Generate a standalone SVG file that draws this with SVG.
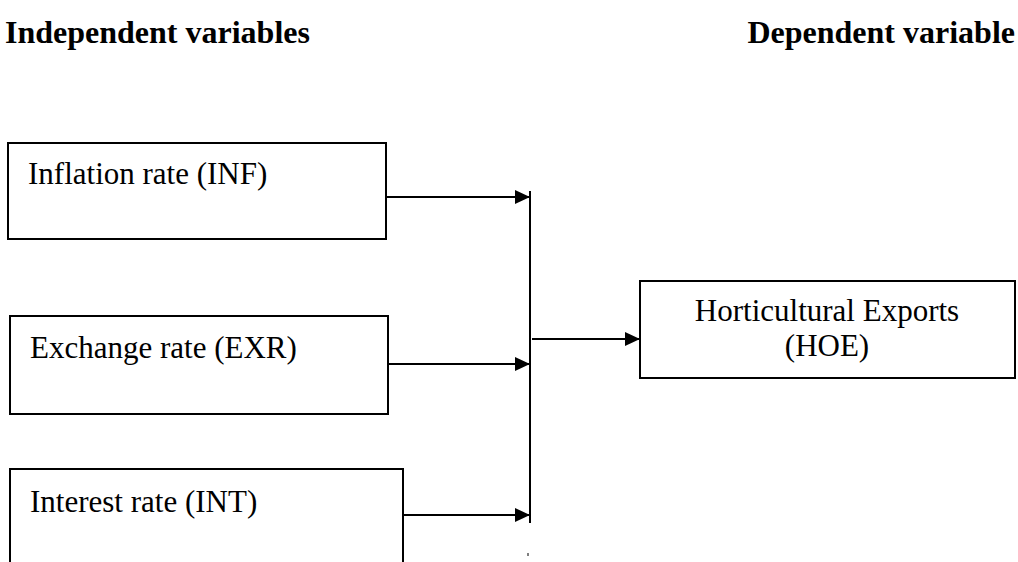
<svg xmlns="http://www.w3.org/2000/svg" width="1018" height="562" viewBox="0 0 1018 562">
<style>
.box{fill:#fff;stroke:#000;stroke-width:2}
.lbl{font-family:"Liberation Serif","Times New Roman",serif;font-size:31px;fill:#000}
.title{font-family:"Liberation Serif","Times New Roman",serif;font-size:32px;font-weight:bold;fill:#000}
.conn{stroke:#000;stroke-width:2;fill:none}
</style>
<defs>
<marker id="arr" markerWidth="15" markerHeight="14" refX="15" refY="7" orient="auto" markerUnits="userSpaceOnUse">
<path d="M0,0 L15,7 L0,14 Z" fill="#000"/>
</marker>
</defs>
<rect width="1018" height="562" fill="#fff"/>
<g id="titles">
<text class="title" x="5" y="43">Independent variables</text>
<text class="title" x="1015" y="43" text-anchor="end">Dependent variable</text>
</g>
<g id="node-inf">
<rect class="box" x="8" y="143" width="378" height="96"/>
<text class="lbl" x="28" y="184">Inflation rate (INF)</text>
</g>
<g id="node-exr">
<rect class="box" x="10" y="316" width="378" height="98"/>
<text class="lbl" x="30" y="358">Exchange rate (EXR)</text>
</g>
<g id="node-int">
<rect class="box" x="10" y="469" width="393" height="110"/>
<text class="lbl" x="30" y="512">Interest rate (INT)</text>
</g>
<g id="node-hoe">
<rect class="box" x="640" y="281" width="375" height="97"/>
<text class="lbl" x="827" y="321" text-anchor="middle">Horticultural Exports</text>
<text class="lbl" x="827" y="356" text-anchor="middle">(HOE)</text>
</g>
<g id="connectors">
<line class="conn" x1="530" y1="191" x2="530" y2="523"/>
<line class="conn" x1="387" y1="197" x2="530" y2="197" marker-end="url(#arr)"/>
<line class="conn" x1="389" y1="364" x2="530" y2="364" marker-end="url(#arr)"/>
<line class="conn" x1="403" y1="515" x2="530" y2="515" marker-end="url(#arr)"/>
<line class="conn" x1="532" y1="339" x2="640" y2="339" marker-end="url(#arr)"/>
<line x1="528" y1="553" x2="528" y2="556" stroke="#000" stroke-width="1"/>
</g>
</svg>
